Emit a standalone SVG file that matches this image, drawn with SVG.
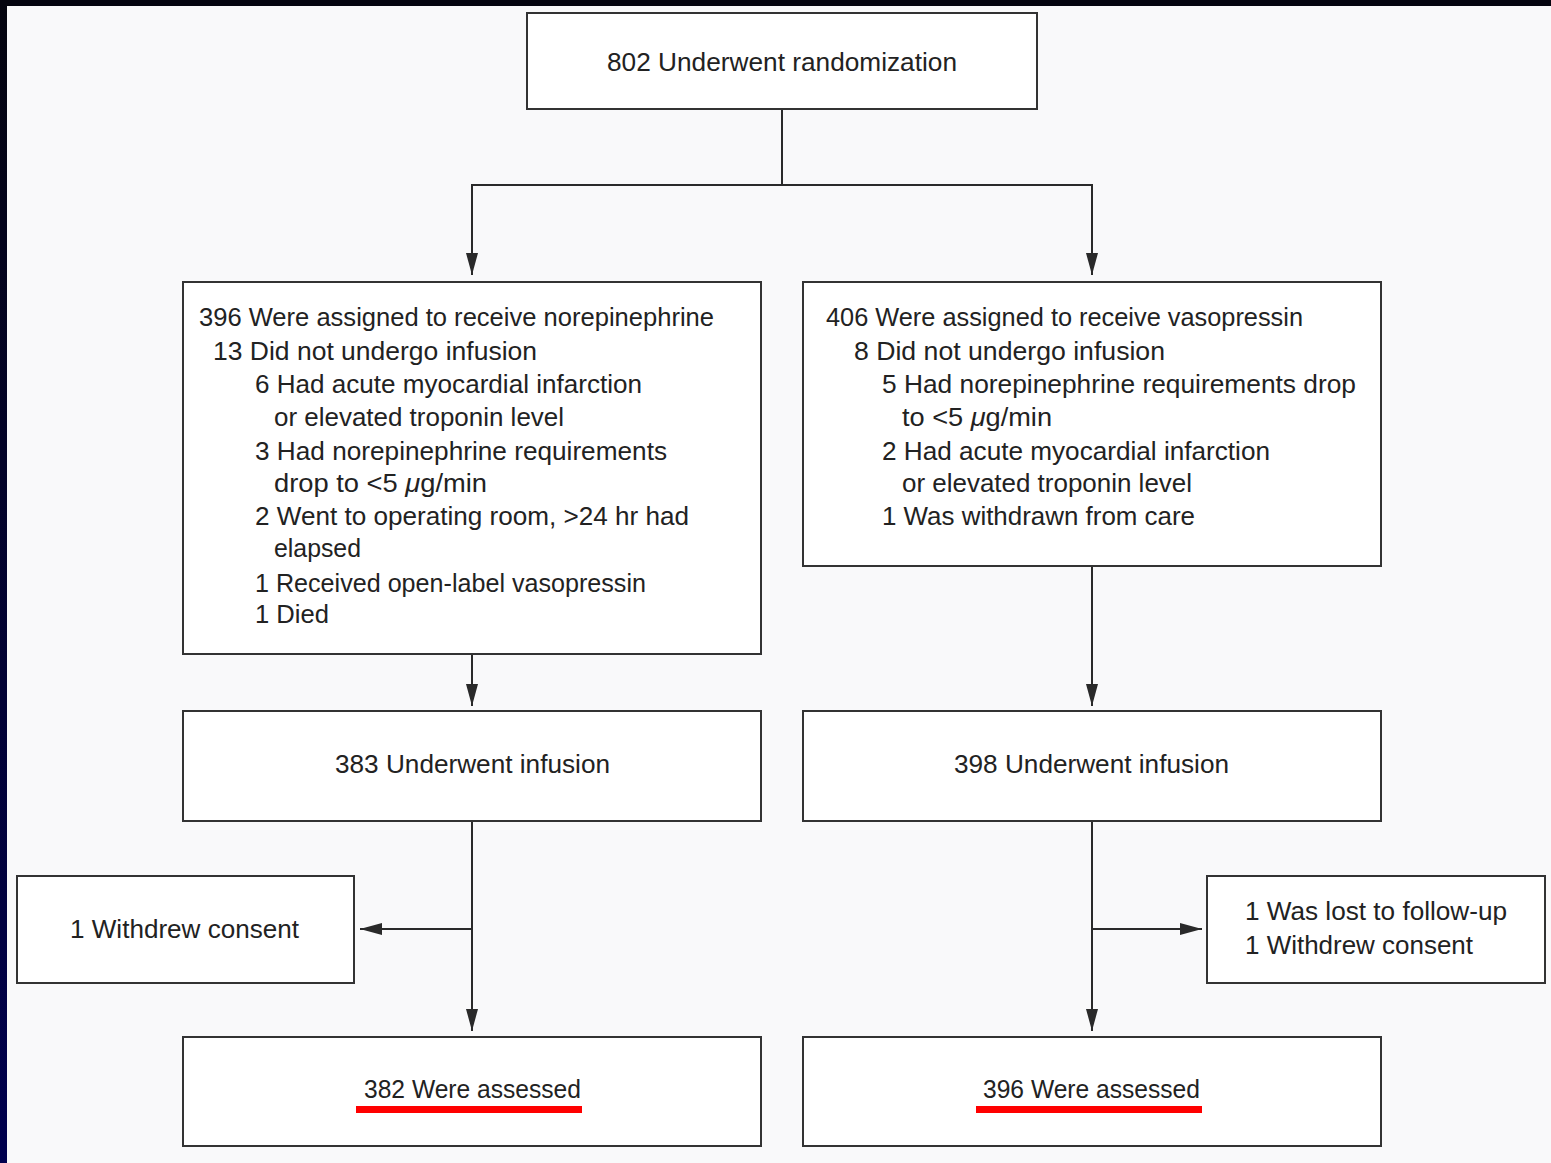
<svg xmlns="http://www.w3.org/2000/svg" width="1551" height="1163" viewBox="0 0 1551 1163">
<defs>
<linearGradient id="edge" x1="0" y1="0" x2="0" y2="1">
<stop offset="0" stop-color="#05050f"/>
<stop offset="1" stop-color="#00004e"/>
</linearGradient>
<marker id="arr" viewBox="0 0 22 12" refX="22" refY="6" markerWidth="22" markerHeight="12" markerUnits="userSpaceOnUse" orient="auto">
<path d="M0,0 L22,6 L0,12 Z" fill="#2a2a2a"/>
</marker>
<style>
.box{fill:#ffffff;stroke:#333333;stroke-width:2}
.t{font-family:"Liberation Sans",Arial,sans-serif;font-size:26px;fill:#222222}
.ln{fill:none;stroke:#2a2a2a;stroke-width:2}
.u{fill:#ff0000}
.mu{font-style:italic}
</style>
</defs>
<rect x="0" y="0" width="1551" height="1163" fill="#f9f9fa"/>
<rect x="0" y="0" width="7" height="1163" fill="url(#edge)"/>
<rect x="0" y="0" width="1551" height="6" fill="#05050f"/>

<g id="connectors">
<polyline class="ln" points="782,109 782,185 472,185 472,275" marker-end="url(#arr)"/>
<polyline class="ln" points="782,185 1092,185 1092,275" marker-end="url(#arr)"/>
<line class="ln" x1="472" y1="654" x2="472" y2="706" marker-end="url(#arr)"/>
<line class="ln" x1="1092" y1="566" x2="1092" y2="706" marker-end="url(#arr)"/>
<line class="ln" x1="472" y1="821" x2="472" y2="1031" marker-end="url(#arr)"/>
<line class="ln" x1="472" y1="929" x2="360" y2="929" marker-end="url(#arr)"/>
<line class="ln" x1="1092" y1="821" x2="1092" y2="1031" marker-end="url(#arr)"/>
<line class="ln" x1="1092" y1="929" x2="1202" y2="929" marker-end="url(#arr)"/>
</g>

<g id="randomization">
<rect class="box" x="527" y="13" width="510" height="96"/>
<text class="t" x="607" y="71" textLength="350" lengthAdjust="spacingAndGlyphs">802 Underwent randomization</text>
</g>

<g id="norepinephrine">
<rect class="box" x="183" y="282" width="578" height="372"/>
<text class="t" x="199" y="326" textLength="515" lengthAdjust="spacingAndGlyphs">396 Were assigned to receive norepinephrine</text>
<text class="t" x="213" y="360" textLength="324" lengthAdjust="spacingAndGlyphs">13 Did not undergo infusion</text>
<text class="t" x="255" y="393" textLength="387" lengthAdjust="spacingAndGlyphs">6 Had acute myocardial infarction</text>
<text class="t" x="274" y="426" textLength="290" lengthAdjust="spacingAndGlyphs">or elevated troponin level</text>
<text class="t" x="255" y="460" textLength="412" lengthAdjust="spacingAndGlyphs">3 Had norepinephrine requirements</text>
<text class="t" x="274" y="492" textLength="213" lengthAdjust="spacingAndGlyphs">drop to &lt;5 <tspan class="mu">μ</tspan>g/min</text>
<text class="t" x="255" y="525" textLength="434" lengthAdjust="spacingAndGlyphs">2 Went to operating room, &gt;24 hr had</text>
<text class="t" x="274" y="557" textLength="87" lengthAdjust="spacingAndGlyphs">elapsed</text>
<text class="t" x="255" y="592" textLength="391" lengthAdjust="spacingAndGlyphs">1 Received open-label vasopressin</text>
<text class="t" x="255" y="623" textLength="74" lengthAdjust="spacingAndGlyphs">1 Died</text>
</g>

<g id="vasopressin">
<rect class="box" x="803" y="282" width="578" height="284"/>
<text class="t" x="826" y="326" textLength="477" lengthAdjust="spacingAndGlyphs">406 Were assigned to receive vasopressin</text>
<text class="t" x="854" y="360" textLength="311" lengthAdjust="spacingAndGlyphs">8 Did not undergo infusion</text>
<text class="t" x="882" y="393" textLength="474" lengthAdjust="spacingAndGlyphs">5 Had norepinephrine requirements drop</text>
<text class="t" x="902" y="426" textLength="150" lengthAdjust="spacingAndGlyphs">to &lt;5 <tspan class="mu">μ</tspan>g/min</text>
<text class="t" x="882" y="460" textLength="388" lengthAdjust="spacingAndGlyphs">2 Had acute myocardial infarction</text>
<text class="t" x="902" y="492" textLength="290" lengthAdjust="spacingAndGlyphs">or elevated troponin level</text>
<text class="t" x="882" y="525" textLength="313" lengthAdjust="spacingAndGlyphs">1 Was withdrawn from care</text>
</g>

<g id="infusion-left">
<rect class="box" x="183" y="711" width="578" height="110"/>
<text class="t" x="335" y="773" textLength="275" lengthAdjust="spacingAndGlyphs">383 Underwent infusion</text>
</g>

<g id="infusion-right">
<rect class="box" x="803" y="711" width="578" height="110"/>
<text class="t" x="954" y="773" textLength="275" lengthAdjust="spacingAndGlyphs">398 Underwent infusion</text>
</g>

<g id="withdrew-left">
<rect class="box" x="17" y="876" width="337" height="107"/>
<text class="t" x="70" y="938" textLength="229" lengthAdjust="spacingAndGlyphs">1 Withdrew consent</text>
</g>

<g id="lost-right">
<rect class="box" x="1207" y="876" width="338" height="107"/>
<text class="t" x="1245" y="920" textLength="262" lengthAdjust="spacingAndGlyphs">1 Was lost to follow-up</text>
<text class="t" x="1245" y="954" textLength="228" lengthAdjust="spacingAndGlyphs">1 Withdrew consent</text>
</g>

<g id="assessed-left">
<rect class="box" x="183" y="1037" width="578" height="109"/>
<text class="t" x="364" y="1098" textLength="217" lengthAdjust="spacingAndGlyphs">382 Were assessed</text>
<rect class="u" x="356" y="1106" width="226" height="7"/>
</g>

<g id="assessed-right">
<rect class="box" x="803" y="1037" width="578" height="109"/>
<text class="t" x="983" y="1098" textLength="217" lengthAdjust="spacingAndGlyphs">396 Were assessed</text>
<rect class="u" x="976" y="1106" width="226" height="7"/>
</g>
</svg>
